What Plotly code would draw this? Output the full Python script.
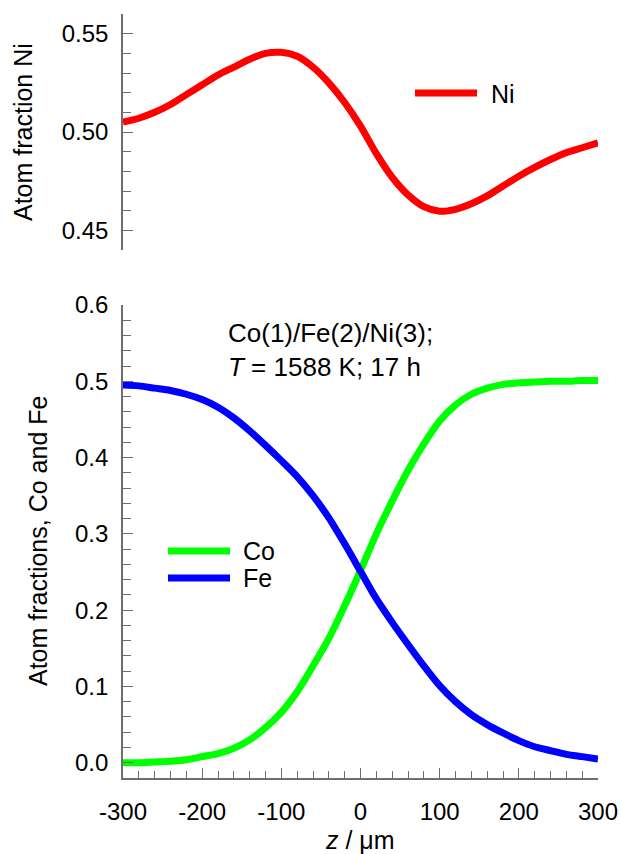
import plotly.graph_objects as go

# Distance across the diffusion couple, micrometres
z_um = [-300, -280, -260, -240, -220, -200, -180, -160, -140, -120, -100,
        -80, -60, -40, -20, 0, 20, 40, 60, 80, 100,
        120, 140, 160, 180, 200, 220, 240, 260, 280, 300]

# Atom fraction profiles
ni_frac = [0.505, 0.507, 0.510, 0.514, 0.519, 0.524, 0.529, 0.533, 0.537, 0.540, 0.5405,
           0.5385, 0.533, 0.525, 0.515, 0.503, 0.489, 0.477, 0.468, 0.462, 0.4597,
           0.4607, 0.4635, 0.4675, 0.4725, 0.4775, 0.482, 0.486, 0.4895, 0.492, 0.4945]
co_frac = [0.000, 0.000, 0.001, 0.002, 0.004, 0.008, 0.012, 0.019, 0.030, 0.046, 0.066,
           0.093, 0.127, 0.163, 0.206, 0.252, 0.300, 0.343, 0.383, 0.418, 0.448,
           0.469, 0.483, 0.491, 0.496, 0.498, 0.499, 0.500, 0.500, 0.501, 0.501]
fe_frac = [0.495, 0.494, 0.491, 0.488, 0.483, 0.476, 0.466, 0.452, 0.435, 0.416, 0.396,
           0.375, 0.350, 0.321, 0.287, 0.251, 0.215, 0.184, 0.155, 0.127, 0.101,
           0.080, 0.063, 0.050, 0.039, 0.029, 0.021, 0.016, 0.011, 0.008, 0.005]

# Tick labels
x_ticks = [-300, -200, -100, 0, 100, 200, 300]
x_tick_text = ["-300", "-200", "-100", "0", "100", "200", "300"]
y_ticks_cofe = [0.0, 0.1, 0.2, 0.3, 0.4, 0.5, 0.6]
y_ticks_ni = [0.45, 0.50, 0.55]

W, H = 621, 854
FONT = "Liberation Sans, Arial, sans-serif"
AXC = "#6e6e6e"


def px_x(x):
    return x / W


def px_y(y):
    return 1 - y / H


x_dom = [px_x(123), px_x(598)]

fig = go.Figure()
fig.add_trace(go.Scatter(x=z_um, y=ni_frac, mode="lines", name="Ni",
                         line=dict(color="#ff0000", width=7, shape="spline", smoothing=0.8),
                         xaxis="x2", yaxis="y2", showlegend=False))
fig.add_trace(go.Scatter(x=z_um, y=co_frac, mode="lines", name="Co",
                         line=dict(color="#00ff00", width=7, shape="spline", smoothing=0.8),
                         xaxis="x", yaxis="y", showlegend=False))
fig.add_trace(go.Scatter(x=z_um, y=fe_frac, mode="lines", name="Fe",
                         line=dict(color="#0000ff", width=7, shape="spline", smoothing=0.8),
                         xaxis="x", yaxis="y", showlegend=False))

tickfont = dict(family=FONT, size=24, color="black")
common_y = dict(showgrid=False, zeroline=False, showline=True, linecolor=AXC, linewidth=1.6,
                ticks="inside", ticklen=10, tickwidth=1.4, tickcolor=AXC,
                tickfont=tickfont, ticklabelstandoff=8, automargin=False)

fig.update_layout(
    width=W, height=H,
    margin=dict(l=0, r=0, t=0, b=0),
    plot_bgcolor="white", paper_bgcolor="white",
    xaxis=dict(domain=x_dom, range=[-300, 300], anchor="y", showgrid=False, zeroline=False,
               showline=True, linecolor=AXC, linewidth=1.6, ticks="inside", ticklen=10,
               tickwidth=1.4, tickcolor=AXC, tickvals=x_ticks, ticktext=x_tick_text,
               tickfont=tickfont, ticklabelstandoff=11, automargin=False,
               minor=dict(dtick=20, tick0=0, ticks="inside", ticklen=7, tickcolor=AXC,
                          tickwidth=1.4)),
    yaxis=dict(domain=[px_y(778), px_y(305)], range=[-0.02, 0.6], anchor="x",
               tickvals=y_ticks_cofe, tickformat=".1f",
               minor=dict(dtick=0.02, tick0=0, ticks="inside", ticklen=8, tickcolor=AXC,
                          tickwidth=1.4),
               **common_y),
    xaxis2=dict(domain=x_dom, range=[-300, 300], anchor="y2", visible=False,
                automargin=False),
    yaxis2=dict(domain=[px_y(250), px_y(14)], range=[0.44, 0.56], anchor="x2",
                tickvals=y_ticks_ni, tickformat=".2f",
                minor=dict(dtick=0.01, tick0=0.44, ticks="inside", ticklen=8, tickcolor=AXC,
                           tickwidth=1.4),
                **common_y),
)

ann_font = dict(family=FONT, size=25, color="black")
annotations = [
    dict(text="Atom fraction Ni", x=px_x(23), y=px_y(132), textangle=-90,
         font=ann_font),
    dict(text="Atom fractions, Co and Fe", x=px_x(38), y=px_y(541), textangle=-90,
         font=ann_font),
    dict(text="<i>z</i> / μm", x=px_x(360), y=px_y(840), font=ann_font),
    dict(text="Co(1)/Fe(2)/Ni(3);<br><i>T</i> = 1588 K; 17 h", x=px_x(226), y=px_y(350),
         xanchor="left", align="left", font=dict(family=FONT, size=26, color="black")),
    dict(text="Ni", x=px_x(489), y=px_y(94), xanchor="left", font=ann_font),
    dict(text="Co", x=px_x(241), y=px_y(551), xanchor="left", font=ann_font),
    dict(text="Fe", x=px_x(241), y=px_y(578), xanchor="left", font=ann_font),
]
for a in annotations:
    a.setdefault("xanchor", "center")
    a.update(xref="paper", yref="paper", showarrow=False, yanchor="middle")
fig.update_layout(annotations=annotations)

# Legend keys
legend_keys = [(415, 477, 93, "#ff0000"), (168, 230, 551, "#00ff00"), (168, 230, 578, "#0000ff")]
for x0, x1, y, col in legend_keys:
    fig.add_shape(type="line", xref="paper", yref="paper",
                  x0=px_x(x0), x1=px_x(x1), y0=px_y(y), y1=px_y(y),
                  line=dict(color=col, width=7))

fig.write_html("out.html")
